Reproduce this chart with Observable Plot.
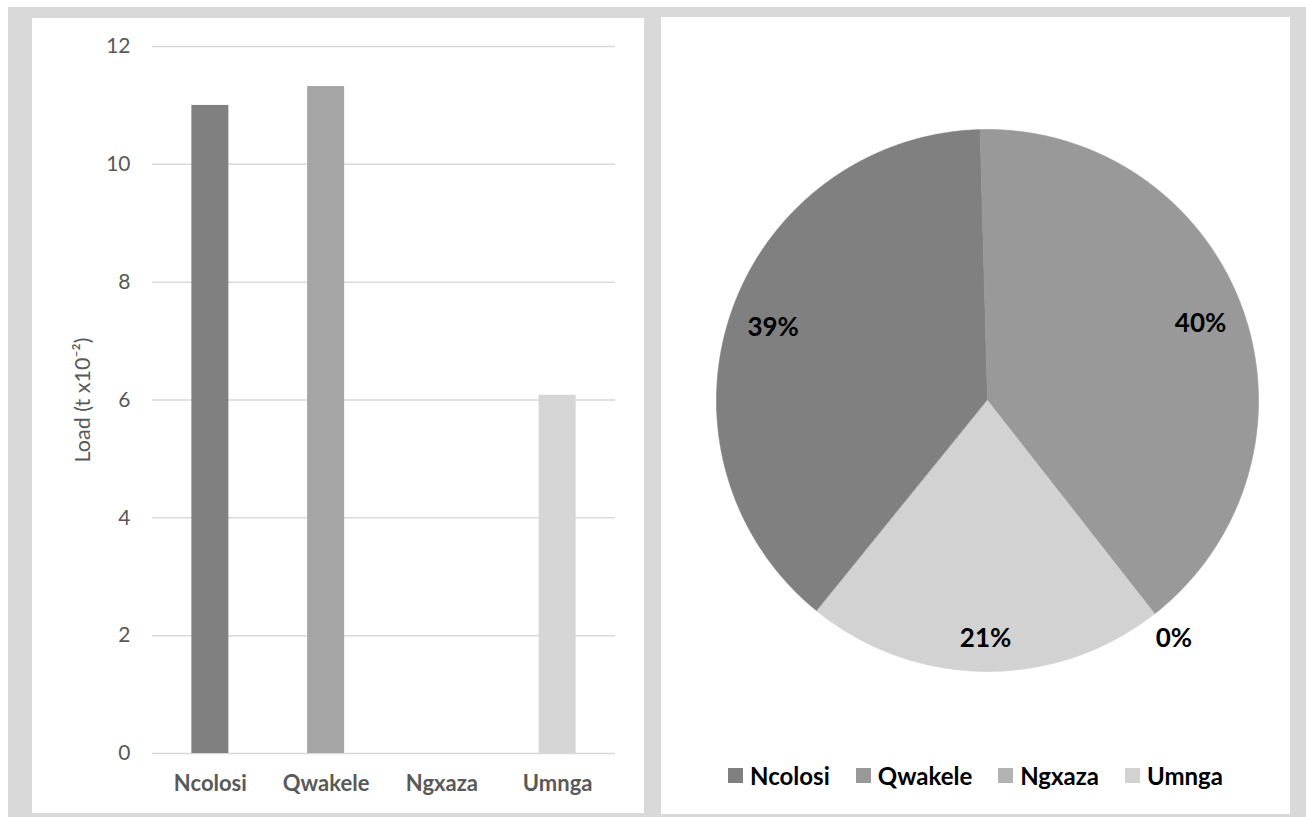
<!DOCTYPE html>
<html>
<head>
<meta charset="utf-8">
<script src="https://cdn.jsdelivr.net/npm/d3@7"></script>
<script src="https://cdn.jsdelivr.net/npm/@observablehq/plot@0.6"></script>
<style>
  html, body { margin: 0; padding: 0; background: #fff; }
  #page { position: relative; width: 1306px; height: 817px; overflow: hidden; font-family: Lato, "Open Sans", sans-serif; }
  #frame { position: absolute; left: 8px; top: 7px; width: 1298px; height: 810px; background: #d9d9d9; }
  .panel { position: absolute; background: #fff; }
  #bars { left: 32px; top: 18px; width: 612px; height: 795px; }
  #pie { left: 661px; top: 17px; width: 629px; height: 797px; }
  .panel svg { position: absolute; left: 0; top: 0; }
  #legend { position: absolute; left: 0; right: 0; top: 743px; height: 30px; display: flex; justify-content: center; align-items: center; gap: 26px; font-family: Lato, sans-serif; font-weight: bold; font-size: 24px; color: #000; }
  #legend .item { display: flex; align-items: center; }
  #legend .sw { width: 15px; height: 15px; margin-right: 7px; }
</style>
</head>
<body>
<div id="page">
  <div id="frame"></div>
  <div class="panel" id="bars"></div>
  <div class="panel" id="pie"><div id="legend"></div></div>
</div>
<script>
// Sediment load per river
const categories = ["Ncolosi", "Qwakele", "Ngxaza", "Umnga"];
const loads = [11.0, 11.32, 0, 6.08];
const barColors = ["#808080", "#a5a5a5", "#bfbfbf", "#d6d6d6"];
const pieColors = ["#808080", "#999999", "#b3b3b3", "#d2d2d2"];
const yTicks = [0, 2, 4, 6, 8, 10, 12];
const yLabel = "Load (t x10⁻²)";

const rows = categories.map((name, i) => ({name, load: loads[i], bar: barColors[i], slice: pieColors[i]}));

// Column chart
const barChart = Plot.plot({
  width: 612,
  height: 795,
  marginLeft: 120,
  marginRight: 29,
  marginTop: 28,
  marginBottom: 60,
  style: {fontFamily: "Lato, sans-serif", background: "transparent", overflow: "visible"},
  x: {domain: categories, paddingInner: 0.68, paddingOuter: 0.34, round: false, label: null},
  y: {domain: [0, 12], ticks: yTicks, label: null},
  color: {type: "identity"},
  marks: [
    Plot.gridY(yTicks, {stroke: "#d9d9d9", strokeOpacity: 1, strokeWidth: 1.5}),
    Plot.barY(rows, {x: "name", y: "load", fill: "bar"}),
    Plot.axisY(yTicks, {tickSize: 0, tickPadding: 22, fontSize: 21, fill: "#595959", label: null, tickFormat: d => String(d)}),
    Plot.axisX({tickSize: 0, tickPadding: 22, fontSize: 22, fontWeight: "bold", fill: "#595959", label: null}),
    Plot.text([yLabel], {text: d => d, frameAnchor: "left", textAnchor: "middle", lineAnchor: "middle", rotate: -90, dx: -69, fontSize: 21.5, fill: "#595959"})
  ]
});
document.getElementById("bars").appendChild(barChart);

// Pie chart: slices run clockwise from the top, Ncolosi starting at 219°
const total = d3.sum(loads);
const start = 219 * Math.PI / 180;
const arcs = d3.pie().sort(null).value(d => d.load).startAngle(start).endAngle(start + 2 * Math.PI)(rows);

const polygonPoints = [];
for (const a of arcs) {
  if (a.endAngle - a.startAngle <= 0) continue;
  polygonPoints.push({name: a.data.name, color: a.data.slice, x: 0, y: 0});
  const n = Math.max(2, Math.ceil((a.endAngle - a.startAngle) / (Math.PI / 360)));
  for (let k = 0; k <= n; k++) {
    const t = a.startAngle + (a.endAngle - a.startAngle) * k / n;
    polygonPoints.push({name: a.data.name, color: a.data.slice, x: Math.sin(t), y: Math.cos(t)});
  }
}

// Percentage labels sit just inside the rim (a little deeper where the label is wide
// relative to the radius), and outside the rim for empty slices.
const labels = arcs.map(a => {
  const mid = (a.startAngle + a.endAngle) / 2;
  const c = Math.cos(mid);
  const rr = a.value > 0 ? 0.83 + 0.05 * c * c : 1.115;
  return {x: rr * Math.sin(mid), y: rr * Math.cos(mid), text: Math.round(a.value / total * 100) + "%"};
});

const pieChart = Plot.plot({
  width: 629,
  height: 797,
  marginLeft: 55,
  marginRight: 32,
  marginTop: 112,
  marginBottom: 143,
  style: {fontFamily: "Lato, sans-serif", background: "transparent", overflow: "visible"},
  x: {domain: [-1, 1], axis: null},
  y: {domain: [-1, 1], axis: null},
  color: {type: "identity"},
  marks: [
    Plot.line(polygonPoints, {x: "x", y: "y", z: "name", fill: "color", stroke: "color", strokeWidth: 0.6, curve: "linear-closed"}),
    Plot.text(labels, {x: "x", y: "y", text: "text", fontSize: 26, fontWeight: "bold", fill: "#000"})
  ]
});
document.getElementById("pie").insertBefore(pieChart, document.getElementById("legend"));

// Legend
const legend = d3.select("#legend");
categories.forEach((name, i) => {
  const item = legend.append("div").attr("class", "item");
  item.append("div").attr("class", "sw").style("background", pieColors[i]);
  item.append("span").text(name);
});
</script>
</body>
</html>
